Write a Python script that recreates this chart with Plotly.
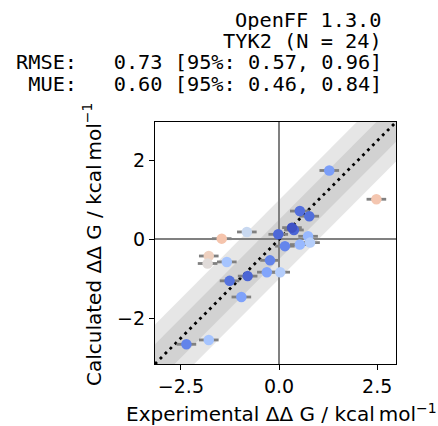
import plotly.graph_objects as go

# ---- data ----
exp_ddg = [1.28, 2.48, 0.53, 0.77, 0.38, 0.33, -0.02, 0.74, 0.79, -0.82, -1.46, 0.15,
           0.53, -1.79, -1.82, -1.33, -0.23, -0.31, 0.03, -1.26, -0.80, -0.96, -2.36, -1.79]
calc_ddg = [1.75, 1.02, 0.72, 0.59, 0.24, 0.30, 0.13, 0.08, -0.08, 0.19, 0.02, -0.17,
            -0.13, -0.42, -0.61, -0.57, -0.53, -0.83, -0.83, -1.05, -0.93, -1.46, -2.66, -2.55]
exp_err = [0.25] * len(exp_ddg)

title_lines = ["OpenFF 1.3.0",
               "TYK2 (N = 24)",
               "RMSE:   0.73 [95%: 0.57, 0.96]",
               " MUE:   0.60 [95%: 0.46, 0.84]"]
x_label = "Experimental ΔΔ G / kcal\u2009mol<sup>−1</sup>"
y_label = "Calculated ΔΔ G / kcal\u2009mol<sup>−1</sup>"

# ---- derived ----
abs_err = [abs(c - e) for c, e in zip(calc_ddg, exp_ddg)]
ax_min = min(min(exp_ddg), min(calc_ddg)) - 0.5
ax_max = max(max(exp_ddg), max(calc_ddg)) + 0.5

coolwarm = [
    (0.0, (59, 76, 192)), (0.03125, (68, 90, 204)), (0.0625, (77, 104, 215)),
    (0.09375, (87, 117, 225)), (0.125, (98, 130, 234)), (0.15625, (108, 142, 241)),
    (0.1875, (119, 154, 247)), (0.21875, (130, 165, 251)), (0.25, (141, 176, 254)),
    (0.28125, (152, 185, 255)), (0.3125, (163, 194, 255)), (0.34375, (174, 201, 253)),
    (0.375, (184, 208, 249)), (0.40625, (194, 213, 244)), (0.4375, (204, 217, 238)),
    (0.46875, (213, 219, 230)), (0.5, (221, 221, 221)), (0.53125, (229, 216, 209)),
    (0.5625, (236, 211, 197)), (0.59375, (241, 204, 184)), (0.625, (245, 196, 172)),
    (0.65625, (247, 187, 160)), (0.6875, (247, 177, 148)), (0.71875, (247, 167, 137)),
    (0.75, (244, 154, 123)), (0.78125, (241, 141, 111)), (0.8125, (236, 127, 99)),
    (0.84375, (229, 112, 88)), (0.875, (222, 96, 77)), (0.90625, (213, 80, 66)),
    (0.9375, (203, 62, 56)), (0.96875, (192, 40, 47)), (1.0, (180, 4, 38)),
]
colorscale = [[s, "rgb(%d,%d,%d)" % c] for s, c in coolwarm]

fig = go.Figure()
band = "rgba(128,128,128,0.2)"
for w in (0.5, 1.0):
    fig.add_trace(go.Scatter(
        x=[ax_min, ax_max, ax_max, ax_min, ax_min],
        y=[ax_min - w, ax_max - w, ax_max + w, ax_min + w, ax_min - w],
        fill="toself", fillcolor=band, mode="none", hoverinfo="skip", showlegend=False))

fig.add_trace(go.Scatter(
    x=[ax_min, ax_max], y=[ax_min, ax_max], mode="lines",
    line=dict(color="black", width=2.8, dash="2.8px,4.2px"), showlegend=False))

fig.add_trace(go.Scatter(
    x=exp_ddg, y=calc_ddg, mode="markers",
    error_x=dict(type="data", array=exp_err, color="gray", thickness=2.8, width=0),
    marker=dict(size=10.5, color=abs_err, colorscale=colorscale, cmin=0, cmax=2.372,
                line=dict(width=0)),
    showlegend=False))

L, R, T, B = 155, 41.5, 122.3, 62
W, H = 438, 426
pw, ph = W - L - R, H - T - B


def px_x(p):
    return (p - L) / pw


def px_y(p):
    return (H - B - p) / ph


axis_common = dict(
    range=[ax_min, ax_max], showgrid=False, zeroline=True, zerolinecolor="gray",
    zerolinewidth=2, showline=True, mirror=True, linecolor="black", linewidth=1.2,
    ticks="outside", ticklen=5, tickwidth=1.1, tickcolor="black",
    tickfont=dict(family="DejaVu Sans", size=19, color="black"))

fig.update_layout(
    width=W, height=H, margin=dict(l=L, r=R, t=T, b=B, pad=0),
    paper_bgcolor="white", plot_bgcolor="white",
    xaxis=dict(**axis_common, tickvals=[-2.5, 0, 2.5], ticktext=["−2.5", "0.0", "2.5"]),
    yaxis=dict(**axis_common, tickvals=[-2, 0, 2], ticktext=["−2", "0", "2"]),
)

ann = []
centers = [19.7, 41.0, 62.3, 83.7]
for txt, cy in zip(title_lines, centers):
    ann.append(dict(text=txt.replace(" ", "\u00a0"), xref="paper", yref="paper",
                    x=px_x(384), y=px_y(cy), xanchor="right", yanchor="middle",
                    height=21, valign="middle",
                    showarrow=False,
                    font=dict(family="DejaVu Sans Mono", size=20.3, color="black")))
ann.append(dict(text=x_label, xref="paper", yref="paper", x=px_x(282), y=px_y(413),
                xanchor="center", yanchor="middle", showarrow=False,
                font=dict(family="DejaVu Sans", size=20, color="black")))
ann.append(dict(text=y_label, xref="paper", yref="paper", x=px_x(92), y=px_y(245),
                xanchor="center", yanchor="middle", textangle=-90, showarrow=False,
                font=dict(family="DejaVu Sans", size=20, color="black")))
fig.update_layout(annotations=ann)

fig.write_html("out.html")
